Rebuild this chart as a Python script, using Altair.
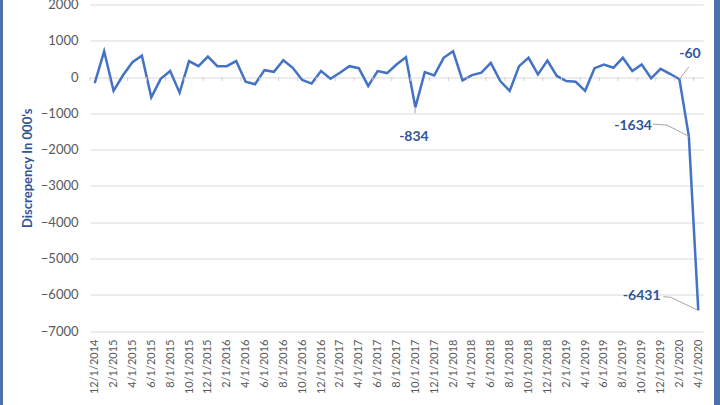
import altair as alt
import pandas as pd

# ---- data -------------------------------------------------------------
dates = ["12/1/2014"] + [f"{m}/1/{y}" for y in range(2015, 2020) for m in range(1, 13)] + \
        ["1/1/2020", "2/1/2020", "3/1/2020", "4/1/2020"]

values = [-170, 710, -380, 50, 410, 590, -560, -50, 165, -430,
          440, 300, 565, 300, 300, 440, -130, -200, 190, 145,
          465, 255, -80, -180, 165, -45, 120, 300, 245, -245,
          165, 110, 345, 545, -834, 135, 45, 530, 710, -90,
          55, 120, 390, -110, -380, 300, 530, 75, 455, 30,
          -110, -130, -380, 245, 345, 255, 530, 165, 345, -35,
          225, 90, -60, -1634, -6431]

ann_labels = ["-834", "-60", "-1634", "-6431"]
ann_x = [33.85, 63.12, 57.08, 58.0]
ann_y = [-1652, 636, -1349, -6035]

lead_group = ["a", "a", "b", "b", "c", "c", "c", "d", "d", "d"]
lead_x = [34, 33.95, 62, 62.99, 59.2, 60.68, 63, 60.29, 61.07, 64]
lead_y = [-834, -1000, -60, 277, -1297, -1325, -1634, -6054, -6071, -6431]

y_ticks = list(range(-7000, 2001, 1000))

# ---- frames -----------------------------------------------------------
df = pd.DataFrame({"i": list(range(len(values))), "date": dates, "v": values})
ann = pd.DataFrame({"label": ann_labels, "x": ann_x, "y": ann_y})
lead = pd.DataFrame({"g": lead_group, "x": lead_x, "y": lead_y, "o": list(range(len(lead_x)))})
one = pd.DataFrame({"a": [0]})

n = len(values)
label_expr = "[" + ",".join(f"'{d}'" for d in dates) + "][datum.value]"

LINE = "#4472C4"
LBL = "#2F5597"
FONT = "Lato"

xscale = alt.Scale(domain=[-0.5, n - 0.5], nice=False, zero=False)
yscale = alt.Scale(domain=[-7000, 2000], nice=False)

x_axis = alt.Axis(values=list(range(0, n, 2)), labelExpr=label_expr, labelAngle=-90,
                  grid=False, domain=False, ticks=False, labelOverlap=False,
                  labelFlush=False, labelPadding=8, labelFontSize=11,
                  labelColor="#595959", labelFont=FONT, title=None)
y_axis = alt.Axis(values=y_ticks, format="d", grid=True, gridColor="#d9d9d9", domain=False,
                  ticks=False, labelOverlap=False, labelFlush=False, labelPadding=12,
                  labelFontSize=13, labelColor="#595959",
                  labelFont=FONT, title="Discrepency In 000's", titleFont=FONT,
                  titleFontSize=13, titleFontWeight="bold", titleColor=LBL,
                  titlePadding=6)


def X(field):
    return alt.X(field, scale=xscale, axis=x_axis)


def Y(field):
    return alt.Y(field, scale=yscale, axis=y_axis)


base_line = alt.Chart(df).mark_line(color=LINE, strokeWidth=2.5).encode(
    x=X("i:Q"), y=Y("v:Q"),
)

zero_rule = alt.Chart(df).transform_calculate(z="0").mark_rule(
    color="#d0d0d0", strokeWidth=1
).encode(x=X("min(i):Q"), x2="max(i):Q", y=Y("min(z):Q"))

ticks = alt.Chart(df).transform_filter("datum.i % 2 == 0").transform_calculate(
    tx="datum.i - 0.5", t0="0", t1="-110"
).mark_rule(color="#d0d0d0", strokeWidth=1).encode(
    x=X("tx:Q"), y=Y("t0:Q"), y2="t1:Q",
)

leaders = alt.Chart(lead).mark_line(color="#a6a6a6", strokeWidth=1).encode(
    x=X("x:Q"), y=Y("y:Q"), detail="g:N", order="o:Q",
)

labels = alt.Chart(ann).mark_text(color=LBL, font=FONT, fontSize=14, fontWeight="bold",
                                  align="center", baseline="middle").encode(
    x=X("x:Q"), y=Y("y:Q"), text="label:N",
)

left_bar = alt.Chart(one).mark_rect(color="#4e71ae").encode(
    x=alt.value(-90), x2=alt.value(-87), y=alt.value(-10), y2=alt.value(420)
)
right_bar = alt.Chart(one).mark_rect(color="#4e71ae").encode(
    x=alt.value(624), x2=alt.value(630), y=alt.value(-10), y2=alt.value(420)
)

chart = alt.layer(base_line, ticks, leaders, labels, left_bar, right_bar).properties(
    width=613, height=326.5,
    autosize=alt.AutoSizeParams(type="none"),
    padding={"left": 90, "top": 4.5, "right": 17, "bottom": 74},
    background="white",
).configure_view(stroke=None)

chart.save("out.html", embed_options={"renderer": "svg", "actions": False})
